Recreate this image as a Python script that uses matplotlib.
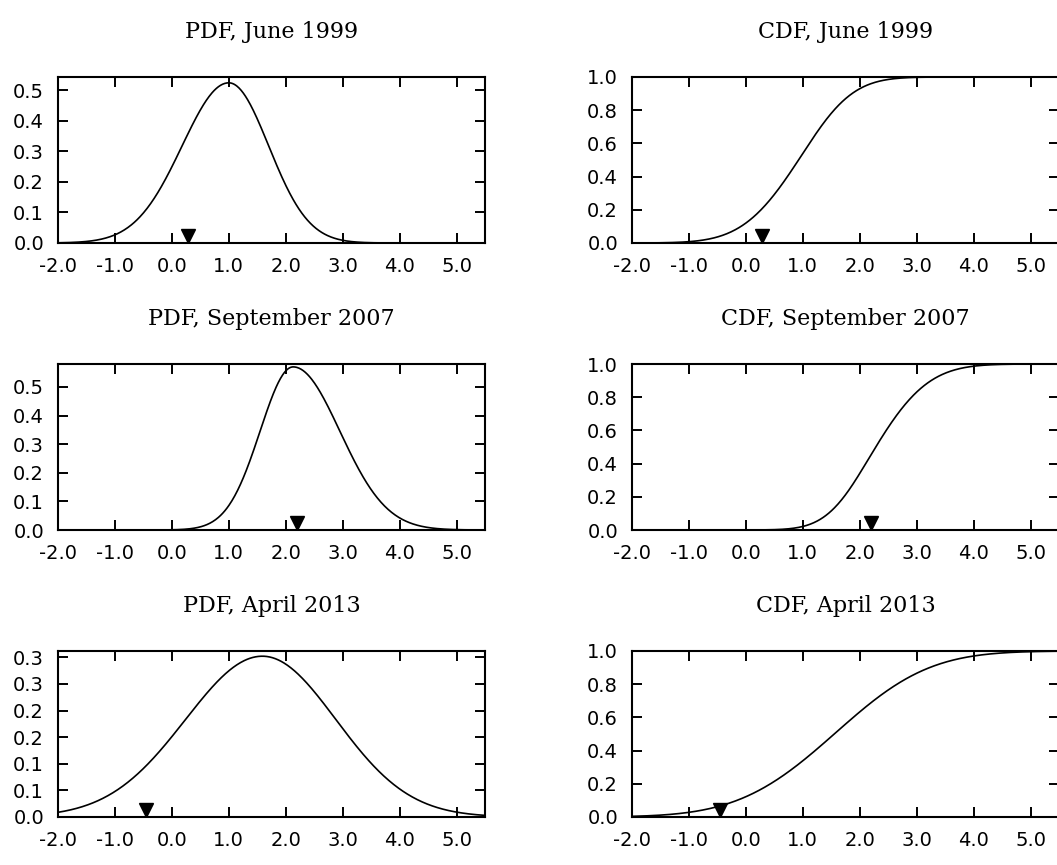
import numpy as np
from math import erf
from matplotlib import pyplot as plt
from matplotlib import transforms
from matplotlib.ticker import FormatStrFormatter, MultipleLocator

# --- data ---
periods = ['June 1999', 'September 2007', 'April 2013']
# two-piece normal: mode, left sigma, right sigma
modes = [1.00, 2.13, 1.59]
sigma_left = [0.82, 0.58, 1.35]
sigma_right = [0.70, 0.82, 1.29]
# outturn markers (triangles)
outturns = [0.29, 2.19, -0.45]
# upper y limit and tick step of the pdf panels
pdf_top = [0.544, 0.580, 0.312]
pdf_step = [0.1, 0.1, 0.05]

x_range = [-2.0, 5.5]

phi = np.vectorize(lambda z: 0.5 * (1 + erf(z / np.sqrt(2))))


def pdf(x, mu, s1, s2):
    a = np.sqrt(2 / np.pi) / (s1 + s2)
    s = np.where(x < mu, s1, s2)
    return a * np.exp(-(x - mu) ** 2 / (2 * s ** 2))


def cdf(x, mu, s1, s2):
    tot = s1 + s2
    left = 2 * s1 / tot * phi((x - mu) / s1)
    right = s1 / tot + 2 * s2 / tot * (phi((x - mu) / s2) - 0.5)
    return np.where(x < mu, left, right)


W, H = 1057, 865
fig = plt.figure(figsize=(W / 100, H / 100), dpi=100)

col_left = [58, 632]
ax_w = 427
row_bottom = [622, 335, 48]
ax_h = 166

xs = np.linspace(x_range[0], x_range[1], 600)
ms = 10.5

for i, period in enumerate(periods):
    for j, kind in enumerate(['PDF', 'CDF']):
        ax = fig.add_axes([col_left[j] / W, row_bottom[i] / H, ax_w / W, ax_h / H])
        if kind == 'PDF':
            ys = pdf(xs, modes[i], sigma_left[i], sigma_right[i])
            top = pdf_top[i]
            step = pdf_step[i]
        else:
            ys = cdf(xs, modes[i], sigma_left[i], sigma_right[i])
            top = 1.0
            step = 0.2
        ax.plot(xs, ys, color='black', lw=1.2)

        # triangle sits on the x axis
        tr = transforms.offset_copy(ax.transData, fig=fig, y=ms / 2, units='points')
        ax.plot([outturns[i]], [0], 'v', color='black', ms=ms, transform=tr,
                clip_on=False)

        ax.set_xlim(x_range)
        ax.set_ylim(0, top)
        ax.xaxis.set_major_locator(MultipleLocator(1.0))
        ax.yaxis.set_major_locator(MultipleLocator(step))
        ax.xaxis.set_major_formatter(FormatStrFormatter('%.1f'))
        ax.yaxis.set_major_formatter(FormatStrFormatter('%.1f'))
        ax.tick_params(direction='in', length=7, width=1.4, top=True, right=True,
                       labelsize=14, pad=10)
        for sp in ax.spines.values():
            sp.set_linewidth(1.5)
        ax.set_title(f'{kind}, {period}', family='DejaVu Serif', fontsize=16, pad=28)

plt.savefig('out.png', dpi=100)
